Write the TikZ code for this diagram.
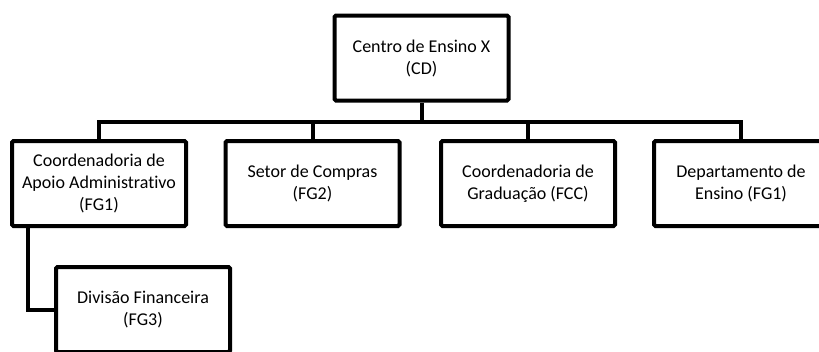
\documentclass[tikz,border=0pt]{standalone}
\usepackage{fontspec}
\setmainfont[Ligatures=NoCommon]{Carlito}
\begin{document}
\begin{tikzpicture}[x=1pt,y=-1pt,
  caixa/.style={draw, line width=4pt, rounded corners=1.5pt, minimum width=174pt,
    minimum height=85pt, align=center, font=\fontsize{18}{22}\selectfont},
  linha/.style={line width=4pt}]
\clip (0,0) rectangle (819,351);
\node[caixa] (cd) at (421.5,58) {Centro de Ensino X\\(CD)};
\node[caixa] (caa) at (99,183.5) {Coordenadoria de\\Apoio Administrativo\\(FG1)};
\node[caixa] (sc) at (312.5,183.5) {Setor de Compras\\(FG2)};
\node[caixa] (cg) at (528,183.5) {Coordenadoria de\\Graduação (FCC)};
\node[caixa] (de) at (741,183.5) {Departamento de\\Ensino (FG1)};
\node[caixa] (df) at (143,309.5) {Divisão Financeira\\(FG3)};
\coordinate (barra) at (421.5,121.5);
\draw[linha] (cd.south) -- (barra);
\foreach \n in {caa,sc,cg,de}
    \draw[linha] (barra) -| (\n.north);
\draw[linha] ([xshift=18pt]caa.south west) |- (df.west);
\end{tikzpicture}
\end{document}
